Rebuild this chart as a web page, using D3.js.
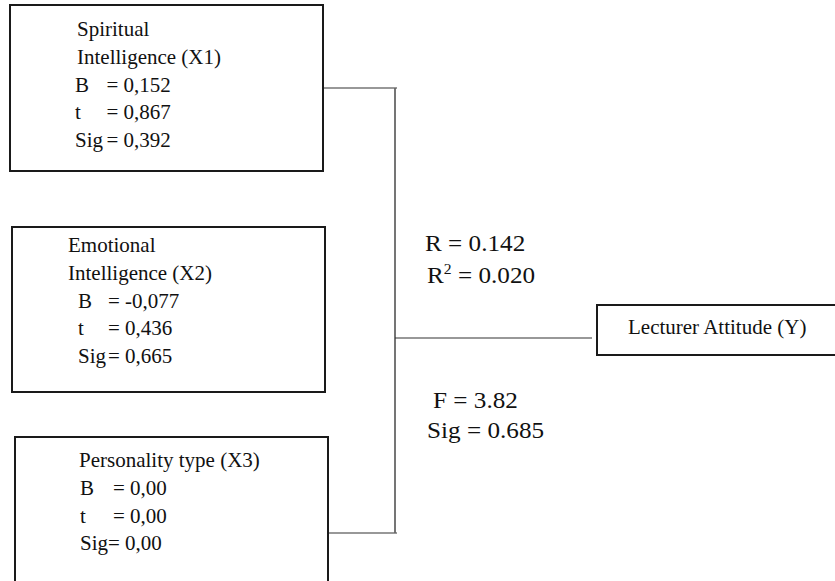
<!DOCTYPE html>
<html>
    <head>
        <meta charset="utf-8">
        <title>Regression diagram</title>
        <style>
            body { margin: 0; background: white; }
            svg { display: block; }
            text {
                font-family: "Liberation Serif", "Times New Roman", serif;
                font-size: 21px;
                fill: #111;
                white-space: pre;
            }
            .box { fill: none; stroke: #1a1a1a; stroke-width: 2; }
            .link { fill: none; stroke: #333; stroke-width: 1.2; }
            .bus { fill: none; stroke: #666; stroke-width: 1.8; }
        </style>
    </head>
    <body>
        <svg width="835" height="581"></svg>
        <script src="https://d3js.org/d3.v7.min.js"></script>
        <script>
            // predictors and their coefficients, as printed
            const predictors = ['X1', 'X2', 'X3'];
            const titles = [
                ['Spiritual', 'Intelligence (X1)'],
                ['Emotional', 'Intelligence (X2)'],
                ['Personality type (X3)']
            ];
            const bRows   = [['B', '= 0,152'], ['B', '= -0,077'], ['B', '= 0,00']];
            const tRows   = [['t', '= 0,867'], ['t', '= 0,436'], ['t', '= 0,00']];
            const sigRows = [['Sig', '= 0,392'], ['Sig', '= 0,665'], ['Sig= 0,00', '']];

            // model summary
            const rValue = '0.142';
            const r2Value = '0.020';
            const fValue = '3.82';
            const fSig = '0.685';
            const outcome = 'Lecturer Attitude (Y)';

            let svg = d3.select('svg');

            // layout of the three predictor boxes
            let boxTop    = d3.scaleOrdinal().domain(predictors).range([5, 227, 437]);
            let boxLeft   = d3.scaleOrdinal().domain(predictors).range([10, 12, 15]);
            let boxHeight = d3.scaleOrdinal().domain(predictors).range([166, 165, 170]);
            let titleLeft = d3.scaleOrdinal().domain(predictors).range([77, 68, 79]);
            let rowLeft   = d3.scaleOrdinal().domain(predictors).range([75, 78, 80]);
            let eqOffset  = d3.scaleOrdinal().domain(predictors).range([31.5, 30, 33]);
            let firstBase = d3.scaleOrdinal().domain(predictors).range([36, 252, 467]);
            let linkY     = d3.scaleOrdinal().domain(['X1', 'X3']).range([88, 533]);
            let boxWidth = 313;
            let lineStep = 27.8;
            let busX = 395;

            // connectors from X1 and X3 into the vertical bus
            ['X1', 'X3'].forEach(function(p) {
                svg.append('line').attr('class', 'link')
                    .attr('x1', boxLeft(p) + boxWidth).attr('x2', busX + 2)
                    .attr('y1', linkY(p)).attr('y2', linkY(p));
            });
            svg.append('line').attr('class', 'bus')
                .attr('x1', busX).attr('x2', busX)
                .attr('y1', linkY('X1')).attr('y2', linkY('X3'));

            // bus to the outcome box
            let yTop = 305, yH = 50, yLeft = 597;
            svg.append('line').attr('class', 'link')
                .attr('x1', busX).attr('x2', yLeft - 5)
                .attr('y1', 338).attr('y2', 338);
            svg.append('rect').attr('class', 'box')
                .attr('x', yLeft).attr('y', yTop)
                .attr('width', 245).attr('height', yH);
            svg.append('text')
                .attr('x', 628).attr('y', 334)
                .text(outcome);

            // predictor boxes
            let groups = svg.selectAll('g.pred')
                .data(predictors)
                .join('g')
                .attr('class', 'pred');

            groups.append('rect').attr('class', 'box')
                .attr('x', d => boxLeft(d)).attr('y', d => boxTop(d))
                .attr('width', boxWidth).attr('height', d => boxHeight(d));

            groups.each(function(p, i) {
                let g = d3.select(this);
                let y = firstBase(p);
                titles[i].forEach(function(line) {
                    g.append('text').attr('x', titleLeft(p)).attr('y', y).text(line);
                    y += lineStep;
                });
                [bRows[i], tRows[i], sigRows[i]].forEach(function(row) {
                    g.append('text').attr('x', rowLeft(p)).attr('y', y).text(row[0]);
                    if (row[1]) g.append('text').attr('x', rowLeft(p) + eqOffset(p)).attr('y', y).text(row[1]);
                    y += lineStep;
                });
            });

            // model statistics beside the bus (printed slightly wide in the source)
            function stat(x, y) {
                return svg.append('text')
                    .attr('transform', 'translate(' + x + ',' + y + ') scale(1.12,1)')
                    .style('font-size', '22.5px');
            }
            stat(425, 251).text('R = ' + rValue);
            let r2 = stat(427, 283);
            r2.append('tspan').text('R');
            r2.append('tspan').attr('dy', -9).style('font-size', '14px').text('2');
            r2.append('tspan').attr('dy', 9).text(' = ' + r2Value);
            stat(433, 408).text('F = ' + fValue);
            stat(427, 438).text('Sig = ' + fSig);
        </script>
    </body>
</html>
